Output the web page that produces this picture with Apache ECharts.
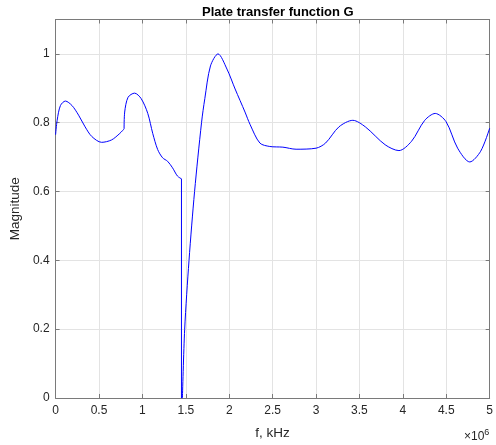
<!DOCTYPE html>
<html>
<head>
<meta charset="utf-8">
<script src="https://cdn.jsdelivr.net/npm/echarts@6/dist/echarts.min.js"></script>
<style>
  html, body { margin: 0; padding: 0; background: #fff; }
  #chart { width: 496px; height: 445px; }
</style>
</head>
<body>
<div id="chart"></div>
<script>
// Frequency samples in units of 10^6 (axis shows the ×10^6 exponent)
const freq = [
  0, 0.018, 0.056, 0.113, 0.189, 0.265, 0.34, 0.417, 0.53, 0.645, 0.74, 0.789,
  0.796, 0.835, 0.91, 0.986, 1.062, 1.119, 1.176, 1.233, 1.29, 1.347, 1.404, 1.450,
  1.450, 1.461, 1.487, 1.537, 1.601, 1.681, 1.719, 1.784, 1.871, 1.974, 2.068,
  2.182, 2.24, 2.353, 2.467, 2.618, 2.77, 3.0, 3.11, 3.264, 3.424, 3.568, 3.796,
  3.955, 4.1, 4.252, 4.373, 4.498, 4.631, 4.771, 4.896, 5.0
];
// |G| magnitude at each frequency
const magnitude = [
  0.765, 0.807, 0.850, 0.863, 0.850, 0.822, 0.788, 0.760, 0.743, 0.750, 0.769, 0.782,
  0.831, 0.874, 0.886, 0.870, 0.827, 0.769, 0.722, 0.698, 0.688, 0.669, 0.645, 0.637,
  0.0, 0.0, 0.200, 0.400, 0.600, 0.800, 0.870, 0.965, 1.000, 0.956, 0.898,
  0.831, 0.795, 0.741, 0.731, 0.729, 0.723, 0.726, 0.741, 0.788, 0.807, 0.788, 0.736,
  0.719, 0.746, 0.807, 0.827, 0.803, 0.726, 0.686, 0.717, 0.784
];
// Sample indices where the response has a kink or a jump (curve is smoothed between them)
const kinks = [11, 23, 25];
const xTicks = ['0', '0.5', '1', '1.5', '2', '2.5', '3', '3.5', '4', '4.5', '5'];
const yTicks = ['0', '0.2', '0.4', '0.6', '0.8', '1'];

const FONT = '"Liberation Sans", Arial, Helvetica, sans-serif';
const frameColor = '#7a7a7a';
const gridColor = '#e3e3e3';
const textColor = '#262626';

const points = freq.map((f, i) => [f, magnitude[i]]);

// Piece boundaries: [0, k1], [k1, k2], ... sharing end samples so the trace is continuous
const bounds = [0].concat(kinks, [points.length - 1]);
const pieces = [];
for (let i = 0; i < bounds.length - 1; i++) {
  pieces.push(points.slice(bounds[i], bounds[i + 1] + 1));
}

const chart = echarts.init(document.getElementById('chart'), null, { renderer: 'canvas' });

const baseX = {
  type: 'value', min: 0, max: 5, interval: 0.5,
  axisLine: { show: true, onZero: false, lineStyle: { color: frameColor, width: 1 } },
  axisTick: { show: true, inside: true, length: 4, lineStyle: { color: frameColor } },
};
const baseY = {
  type: 'value', min: 0, max: 1.1, interval: 0.2,
  axisLine: { show: true, onZero: false, lineStyle: { color: frameColor, width: 1 } },
  axisTick: { show: true, inside: true, length: 4, lineStyle: { color: frameColor } },
};

chart.setOption({
  animation: false,
  backgroundColor: '#fff',
  title: {
    text: 'Plate transfer function G',
    left: 272.8, top: 1, textAlign: 'center',
    textStyle: { fontFamily: FONT, fontSize: 13, fontWeight: 'bold', color: '#000' }
  },
  grid: { left: 53.4, right: 3.7, top: 19.5, bottom: 41.5, containLabel: false },
  xAxis: [
    Object.assign({}, baseX, {
      position: 'bottom',
      name: 'f, kHz', nameLocation: 'middle', nameGap: 28,
      nameTextStyle: { fontFamily: FONT, fontSize: 13.5, color: textColor },
      axisLabel: {
        margin: 7, fontFamily: FONT, fontSize: 12, color: textColor,
        formatter: (v) => xTicks[Math.round(v / 0.5)]
      },
      splitLine: { show: true, lineStyle: { color: gridColor, width: 1 } }
    }),
    Object.assign({}, baseX, {
      position: 'top',
      axisLabel: { show: false },
      splitLine: { show: false }
    })
  ],
  yAxis: [
    Object.assign({}, baseY, {
      position: 'left',
      name: 'Magnitude', nameLocation: 'middle', nameGap: 31,
      nameTextStyle: { fontFamily: FONT, fontSize: 13.5, color: textColor },
      axisLabel: {
        margin: 6, fontFamily: FONT, fontSize: 12, color: textColor, showMaxLabel: false,
        formatter: (v) => {
          const k = Math.round(v / 0.2);
          return Math.abs(v - k * 0.2) < 1e-6 ? yTicks[k] : '';
        }
      },
      splitLine: { show: true, lineStyle: { color: gridColor, width: 1 } }
    }),
    Object.assign({}, baseY, {
      position: 'right',
      axisLabel: { show: false },
      splitLine: { show: false }
    })
  ],
  graphic: [{
    type: 'text',
    left: 464, top: 428,
    style: {
      text: '×10{sup|6}',
      fontFamily: FONT, fontSize: 12, fill: textColor,
      rich: { sup: { fontFamily: FONT, fontSize: 9, fill: textColor, verticalAlign: 'top', padding: [0, 0, 8, 0] } }
    }
  }],
  series: pieces.map((data) => ({
    name: 'G',
    type: 'line',
    data: data,
    xAxisIndex: 0, yAxisIndex: 0,
    showSymbol: false,
    smooth: data.length > 3 ? 0.3 : false,
    lineStyle: { color: '#0000ff', width: 1 },
    clip: true
  }))
});
</script>
</body>
</html>
